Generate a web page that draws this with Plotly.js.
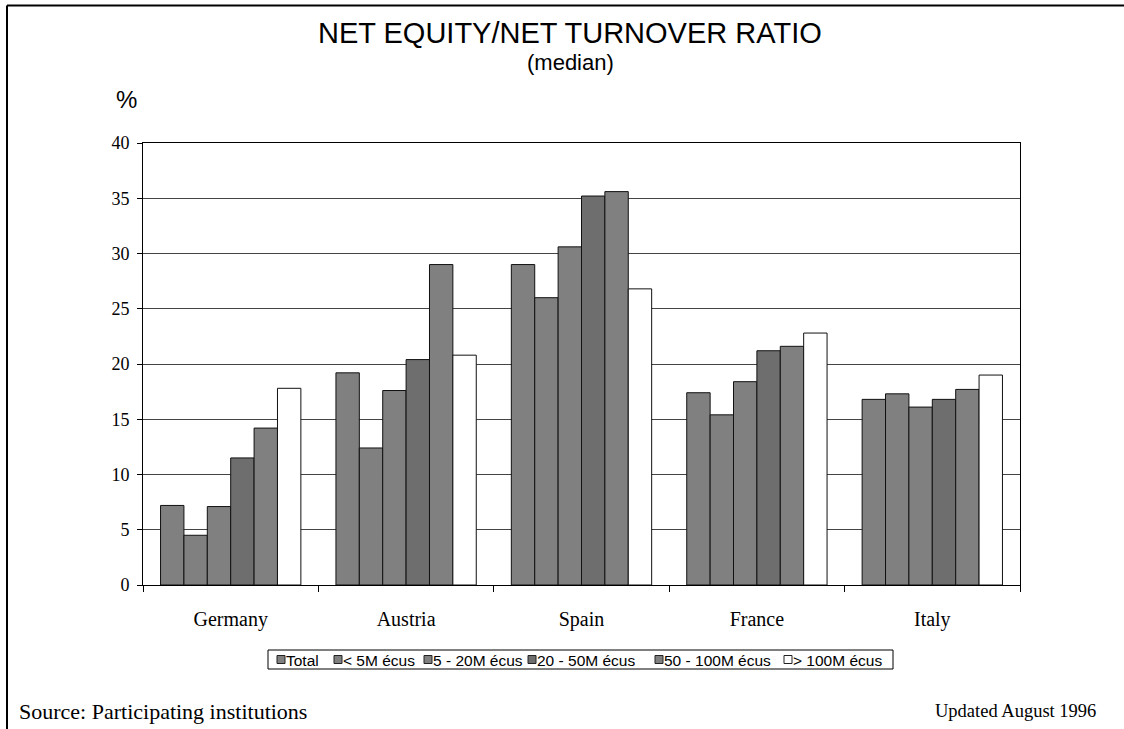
<!DOCTYPE html>
<html>
<head>
<meta charset="utf-8">
<script src="https://cdn.plot.ly/plotly-3.0.1.min.js"></script>
<style>html,body{margin:0;padding:0;background:#fff;}#chart{width:1124px;height:729px;}</style>
</head>
<body>
<div id="chart"></div>
<script>
const countries = ["Germany", "Austria", "Spain", "France", "Italy"];
const seriesNames = ["Total", "< 5M écus", "5 - 20M écus", "20 - 50M écus", "50 - 100M écus", "> 100M écus"];
const total      = [7.2, 19.2, 29.0, 17.4, 16.8];
const lt5M       = [4.5, 12.4, 26.0, 15.4, 17.3];
const m5to20     = [7.1, 17.6, 30.6, 18.4, 16.1];
const m20to50    = [11.5, 20.4, 35.2, 21.2, 16.8];
const m50to100   = [14.2, 29.0, 35.6, 21.6, 17.7];
const gt100M     = [17.8, 20.8, 26.8, 22.8, 19.0];
const yTicks = [0, 5, 10, 15, 20, 25, 30, 35, 40];

const seriesValues = [total, lt5M, m5to20, m20to50, m50to100, gt100M];
const fills = ["#808080", "#808080", "#808080", "#6e6e6e", "#808080", "#ffffff"];

const traces = seriesValues.map((vals, i) => ({
  type: "bar",
  name: seriesNames[i],
  x: countries,
  y: vals,
  marker: {color: fills[i], line: {color: "#111", width: 1}},
  hoverinfo: "x+y+name",
  showlegend: false
}));

const serif = "Liberation Serif, Times New Roman, serif";
const sans = "Liberation Sans, Arial, sans-serif";

// plot area in pixels (used to place decoration in paper coordinates)
const PL = 143, PR = 1020, PT = 143, PB = 585;
const px = v => (v - PL) / (PR - PL);
const py = v => (PB - v) / (PB - PT);

// custom compact legend (swatch left edge, text left edge), in pixels
const legendSwatchX = [277, 334, 424, 528, 655, 784];
const legendTextX   = [286, 343, 433, 537, 664, 793];
const legendY = 659.5;

const shapes = [
  {type: "line", xref: "paper", yref: "paper", x0: px(7), x1: px(1124), y0: py(5.5), y1: py(5.5),
   line: {color: "#000", width: 2}},
  {type: "line", xref: "paper", yref: "paper", x0: px(7), x1: px(7), y0: py(5.5), y1: py(729),
   line: {color: "#000", width: 2}},
  {type: "rect", xref: "paper", yref: "paper", x0: px(268), x1: px(893), y0: py(650), y1: py(669),
   line: {color: "#000", width: 1}, fillcolor: "rgba(0,0,0,0)"}
];
const annotations = [
  {text: "(median)", xref: "paper", yref: "paper", x: px(570), y: py(62),
   xanchor: "center", yanchor: "middle", showarrow: false,
   font: {family: sans, size: 22, color: "#000"}},
  {text: "%", xref: "paper", yref: "paper", x: px(126), y: py(100),
   xanchor: "center", yanchor: "middle", showarrow: false,
   font: {family: sans, size: 24, color: "#000"}},
  {text: "Source: Participating institutions", xref: "paper", yref: "paper",
   x: px(17), y: py(711), xanchor: "left", yanchor: "middle", showarrow: false,
   font: {family: serif, size: 22, color: "#000"}},
  {text: "Updated August 1996", xref: "paper", yref: "paper",
   x: px(1098), y: py(711), xanchor: "right", yanchor: "middle", showarrow: false,
   font: {family: serif, size: 18.5, color: "#000"}}
];
seriesNames.forEach((name, i) => {
  shapes.push({type: "rect", xref: "paper", yref: "paper",
    x0: px(legendSwatchX[i]), x1: px(legendSwatchX[i] + 8),
    y0: py(legendY - 4), y1: py(legendY + 4),
    line: {color: "#222", width: 1}, fillcolor: fills[i]});
  annotations.push({text: name, xref: "paper", yref: "paper",
    x: px(legendTextX[i]), y: py(legendY + 0.5), xanchor: "left", yanchor: "middle",
    showarrow: false, xshift: -2, font: {family: sans, size: 15.5, color: "#000"}});
});

const layout = {
  width: 1124, height: 729,
  margin: {l: PL, r: 1124 - PR, t: PT, b: 729 - PB, pad: 0},
  paper_bgcolor: "#fff", plot_bgcolor: "#fff",
  barmode: "group", bargap: 0.2, bargroupgap: 0,
  showlegend: false,
  title: {
    text: "NET EQUITY/NET TURNOVER RATIO",
    font: {family: sans, size: 29, color: "#000"},
    x: 0.507, xanchor: "center", y: 0.955, yanchor: "middle", yref: "container"
  },
  xaxis: {
    type: "category",
    showline: true, linecolor: "#000", linewidth: 1, mirror: true,
    ticks: "outside", ticklen: 6, tickcolor: "#000", tickson: "boundaries",
    showgrid: false,
    tickfont: {family: serif, size: 20, color: "#000"},
    ticklabelstandoff: 16,
    fixedrange: true
  },
  yaxis: {
    range: [0, 40], tickvals: yTicks,
    showline: true, linecolor: "#000", linewidth: 1, mirror: true,
    ticks: "outside", ticklen: 5, tickcolor: "#000",
    showgrid: true, gridcolor: "#444", gridwidth: 1,
    zeroline: false,
    tickfont: {family: serif, size: 18, color: "#000"},
    ticklabelstandoff: 4,
    fixedrange: true
  },
  annotations: annotations,
  shapes: shapes
};

Plotly.newPlot("chart", traces, layout, {displayModeBar: false, staticPlot: true});
</script>
</body>
</html>
